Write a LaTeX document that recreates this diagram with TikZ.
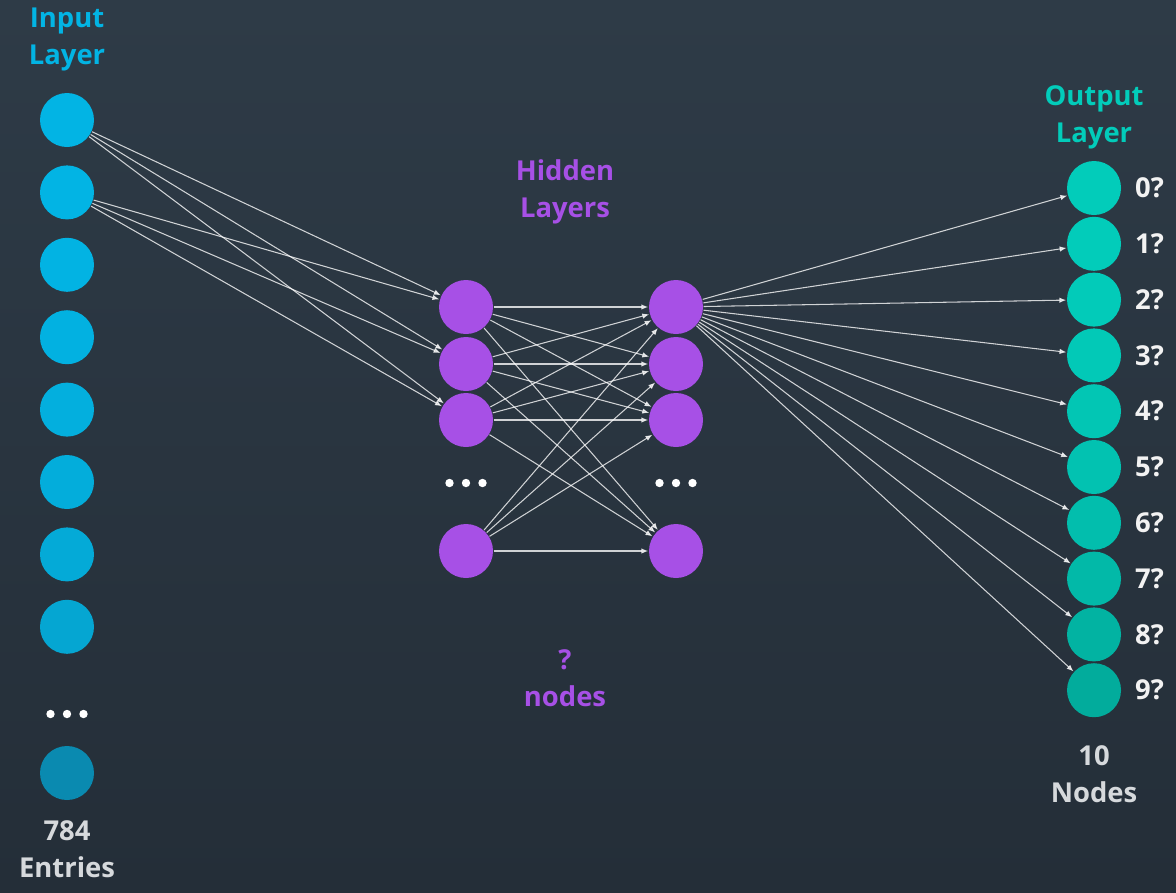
\documentclass[tikz,border=0pt]{standalone}
\usepackage{fontspec}
\newfontfamily\labfont{Open Sans}
\usetikzlibrary{arrows.meta}
\definecolor{bgtop}{RGB}{46,59,71}
\definecolor{bgbot}{RGB}{36,46,56}
\definecolor{inblue}{RGB}{2,180,228}
\definecolor{indark}{RGB}{10,138,176}
\definecolor{hidpurple}{RGB}{167,80,230}
\definecolor{outteal}{RGB}{2,204,186}
\definecolor{outdark}{RGB}{2,164,148}
\definecolor{labgray}{RGB}{214,217,220}
\tikzset{>={Latex[length=0.7mm,width=0.55mm]},
  unit/.style={circle,minimum size=5.4mm,inner sep=0pt},
  wire/.style={->,white,opacity=0.78,line width=0.3pt},
  lab/.style={font=\labfont\bfseries\fontsize{7.8}{10.5}\selectfont,align=center}}

\begin{document}
\begin{tikzpicture}
  \shade[top color=bgtop,bottom color=bgbot] (0,0) rectangle (11.76,-8.92);
  \useasboundingbox (0,0) rectangle (11.76,-8.92);
  % input layer
  \foreach \i in {1,...,8}{
    \pgfmathtruncatemacro\p{(\i-1)*(\i-1)*45/64}
    \node[unit,fill=indark!\p!inblue] (in\i) at (0.67,{-0.476-0.724*\i}) {};
  }
  \node[unit,fill=indark] (in9) at (0.67,-7.73) {};
  \coordinate (indots) at (0.67,-7.14);
  % hidden layers
  \foreach \j/\y in {1/3.07,2/3.64,3/4.20,4/5.51}{
    \node[unit,fill=hidpurple] (ha\j) at (4.66,-\y) {};
    \node[unit,fill=hidpurple] (hb\j) at (6.76,-\y) {};
  }
  \coordinate (hadots) at (4.66,-4.83);
  \coordinate (hbdots) at (6.76,-4.83);
  % output layer
  \foreach \k in {0,...,9}{
    \pgfmathtruncatemacro\p{\k*\k*80/81}
    \node[unit,fill=outdark!\p!outteal] (out\k) at (10.94,{-1.88-0.558*\k}) {};
    \node[lab,text=white!90!gray,anchor=west] (q\k) at ([xshift=0.1mm]out\k.east) {\k?};
  }
  \foreach \c in {indots,hadots,hbdots}
    \foreach \d in {-1,0,1}
      \fill[white] ([xshift=\d*1.65mm]\c) circle (0.42mm);
  % wires
  \foreach \i in {1,2}
    \foreach \j in {1,2,3}
      \draw[wire] (in\i) -- (ha\j);
  \foreach \i in {1,...,4}
    \foreach \j in {1,...,4}
      \draw[wire] (ha\i) -- (hb\j);
  \foreach \k in {0,...,9}
    \draw[wire] (hb1) -- (out\k);
  % labels
  \node[lab,text=inblue] (inlab) at (0.67,-0.395) {Input\\Layer};
  \node[lab,text=hidpurple] (hidlab) at (5.65,-1.915) {Hidden\\Layers};
  \node[lab,text=hidpurple] (nodlab) at (5.65,-6.78) {?\\nodes};
  \node[lab,text=outteal] (outlab) at (10.94,-1.17) {Output\\Layer};
  \node[lab,text=labgray] (tenlab) at (10.94,-7.74) {10\\Nodes};
  \node[lab,text=labgray] (entlab) at (0.67,-8.49) {784\\Entries};
\end{tikzpicture}
\end{document}
